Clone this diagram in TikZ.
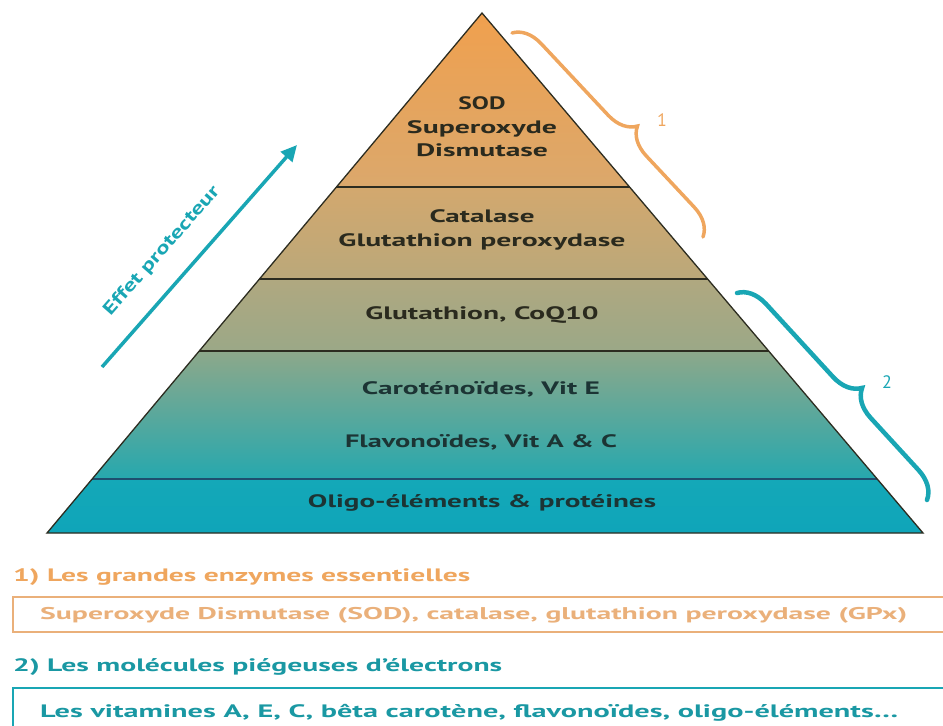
\documentclass[tikz,border=0pt]{standalone}
\usepackage{fontspec}
\setmainfont{PT Sans}
\usepackage{graphicx}
\usetikzlibrary{arrows.meta,decorations.pathreplacing,calc}
\definecolor{cAt}{HTML}{F0A04E}
\definecolor{cAb}{HTML}{DBA86C}
\definecolor{cBt}{HTML}{D3A86E}
\definecolor{cBb}{HTML}{BAA87A}
\definecolor{cCt}{HTML}{B0A880}
\definecolor{cCb}{HTML}{9BA887}
\definecolor{cDt}{HTML}{8DA88A}
\definecolor{cDm}{HTML}{5EA89B}
\definecolor{cDb}{HTML}{26A8AE}
\definecolor{cEt}{HTML}{14A8B8}
\definecolor{cEb}{HTML}{0FA5B9}
\definecolor{sepdark}{HTML}{2C2C20}
\definecolor{sepblue}{HTML}{1E4E6E}
\definecolor{txtdark}{HTML}{2A2A1E}
\definecolor{txtlow}{HTML}{1C3434}
\definecolor{orng}{HTML}{EFA65E}
\definecolor{orngl}{HTML}{EAB07A}
\definecolor{teal}{HTML}{19A6B4}
\definecolor{teald}{HTML}{1A98A3}
\newcommand{\fitw}[2]{\resizebox{#1pt}{\height}{#2}}
\begin{document}
\begin{tikzpicture}[x=1pt,y=-1pt,
  ptext/.style={font=\fontsize{18}{23.5}\selectfont\bfseries, text=txtdark, align=center, inner sep=0pt},
  plow/.style={ptext, text=txtlow},
  sep/.style={draw=sepdark, line width=1.3pt},
  bracebox/.style={decorate, line cap=round, decoration={brace, amplitude=28pt, aspect=0.55}},
  title/.style={font=\fontsize{18}{20}\selectfont\bfseries, anchor=west, inner sep=0pt},
  numlab/.style={font=\fontsize{18}{20}\selectfont, inner sep=0pt}]
\useasboundingbox (0,0) rectangle (943,726);
\clip (0,0) rectangle (943,726);
% pyramid geometry
\coordinate (A) at (482,13);
\coordinate (BL) at (47,533);
\coordinate (BR) at (923,533);
\coordinate (L1) at ($(A)!0.3346!(BL)$); \coordinate (R1) at ($(A)!0.3346!(BR)$);
\coordinate (L2) at ($(A)!0.5115!(BL)$); \coordinate (R2) at ($(A)!0.5115!(BR)$);
\coordinate (L3) at ($(A)!0.65!(BL)$);   \coordinate (R3) at ($(A)!0.65!(BR)$);
\coordinate (L4) at ($(A)!0.8962!(BL)$); \coordinate (R4) at ($(A)!0.8962!(BR)$);
% layers
\shade[top color=cAt, bottom color=cAb] (A) -- (R1) -- (L1) -- cycle;
\shade[top color=cBt, bottom color=cBb] (L1) -- (R1) -- (R2) -- (L2) -- cycle;
\shade[top color=cCt, bottom color=cCb] (L2) -- (R2) -- (R3) -- (L3) -- cycle;
\shade[top color=cDt, middle color=cDm, bottom color=cDb] (L3) -- (R3) -- (R4) -- (L4) -- cycle;
\shade[top color=cEt, bottom color=cEb] (L4) -- (R4) -- (BR) -- (BL) -- cycle;
\draw[sep] (L1) -- (R1);
\draw[sep] (L2) -- (R2);
\draw[sep] (L3) -- (R3);
\draw[draw=sepblue, line width=2pt] (L4) -- (R4);
\draw[draw=sepdark, line width=1.3pt, line join=miter] (A) -- (BR) -- (BL) -- cycle;
% pyramid texts
\node[ptext] (sod) at (482,127) {\fitw{47}{SOD}\\\fitw{150}{Superoxyde}\\\fitw{132}{Dismutase}};
\node[ptext] (cat) at (482,230) {\fitw{105}{Catalase}\\\fitw{287}{Glutathion peroxydase}};
\node[ptext] (glu) at (482,315) {\fitw{233}{Glutathion, CoQ10}};
\node[plow] (car) at (481,389) {\fitw{238}{Caroténoïdes, Vit E}};
\node[plow] (fla) at (481,442) {\fitw{272}{Flavonoïdes, Vit A \& C}};
\node[plow] (oli) at (482,503) {\fitw{348}{Oligo-éléments \& protéines}};
% arrow
\coordinate (arrS) at (102,367);
\coordinate (arrE) at (297,145);
\draw[teal, line width=3.5pt, -{Triangle[length=16pt,width=15pt]}] (arrS) -- (arrE);
\node[font=\fontsize{18}{20}\selectfont\bfseries, text=teal, rotate=48.7, inner sep=0pt] (eff) at (162,251) {\fitw{166}{Effet protecteur}};
% braces
\coordinate (b1s) at (512,33);
\coordinate (b1e) at (703,237);
\draw[bracebox, orng, line width=3.5pt] (b1s) -- (b1e);
\node[numlab, text=orng] (n1) at (662,120) {1};
\coordinate (b2s) at (737,293);
\coordinate (b2e) at (927,500);
\draw[bracebox, teal, line width=4.5pt] (b2s) -- (b2e);
\node[numlab, text=teal] (n2) at (887,382) {2};
% legend
\node[title, text=orng] (t1) at (13,577) {\fitw{457}{1) Les grandes enzymes essentielles}};
\draw[orngl, line width=1.6pt] (13,597) rectangle (960,632);
\node[title, font=\fontsize{17}{20}\selectfont\bfseries, text=orngl] (d1) at (40,615) {\fitw{867}{Superoxyde Dismutase (SOD), catalase, glutathion peroxydase (GPx)}};
\node[title, text=teald] (t2) at (13,667) {\fitw{489}{2) Les molécules piégeuses d’électrons}};
\draw[teal, line width=2.2pt] (13,688) rectangle (960,760);
\node[title, text=teald] (d2) at (40,713) {\fitw{858}{Les vitamines A, E, C, bêta carotène, flavonoïdes, oligo-éléments\ldots}};
\end{tikzpicture}
\end{document}
